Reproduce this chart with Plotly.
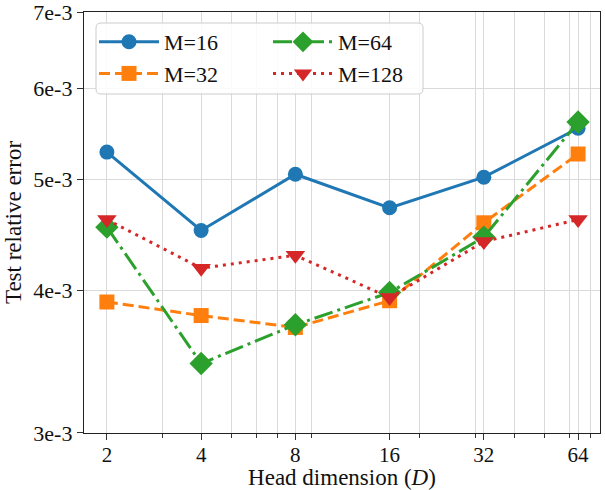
import math
import plotly.graph_objects as go

head_dim = [2, 4, 8, 16, 32, 64]
x_tick_labels = ["2", "4", "8", "16", "32", "64"]
x_minor_vals = [3, 5, 6, 7, 9, 20, 30, 40, 50, 60, 70]
y_tick_vals = [3e-3, 4e-3, 5e-3, 6e-3, 7e-3]
y_tick_labels = ["3e-3", "4e-3", "5e-3", "6e-3", "7e-3"]

err_m16 = [5.28e-3, 4.51e-3, 5.05e-3, 4.72e-3, 5.02e-3, 5.54e-3]
err_m32 = [3.905e-3, 3.80e-3, 3.71e-3, 3.915e-3, 4.58e-3, 5.26e-3]
err_m64 = [4.54e-3, 3.45e-3, 3.73e-3, 3.98e-3, 4.45e-3, 5.61e-3]
err_m128 = [4.61e-3, 4.18e-3, 4.29e-3, 3.94e-3, 4.41e-3, 4.61e-3]

FONT = "Liberation Serif"
W, H = 605, 490
ML, MR, MT, MB = 84, 5, 12, 57
PW, PH = W - ML - MR, H - MT - MB

fig = go.Figure()
series = [
    ("M=16", err_m16, "#1f77b4", "solid", "circle", 15, "legend"),
    ("M=32", err_m32, "#ff7f0e", "11px,5px", "square", 15, "legend"),
    ("M=64", err_m64, "#2ca02c", "19px,5px,3px,5px", "diamond", 18, "legend2"),
    ("M=128", err_m128, "#d62728", "3px,5px", "triangle-down", 17, "legend2"),
]
for name, ys, col, dash, sym, sz, lg in series:
    fig.add_trace(go.Scatter(
        x=head_dim, y=ys, name=name, mode="lines+markers",
        line=dict(color=col, width=3, dash=dash),
        marker=dict(symbol=sym, size=sz, color=col, line=dict(width=0)),
        legend=lg,
    ))

# legend frame (rounded rectangle, paper coords)
def px2paper(xp, yp):
    return (xp - ML) / PW, (H - MB - yp) / PH

x0, y0 = px2paper(96, 23)
x1, y1 = px2paper(423, 94)
rx, ry = 5 / PW, 5 / PH
path = (f"M {x0+rx},{y0} L {x1-rx},{y0} Q {x1},{y0} {x1},{y0-ry} "
        f"L {x1},{y1+ry} Q {x1},{y1} {x1-rx},{y1} L {x0+rx},{y1} "
        f"Q {x0},{y1} {x0},{y1+ry} L {x0},{y0-ry} Q {x0},{y0} {x0+rx},{y0} Z")
fig.add_shape(type="path", path=path, xref="paper", yref="paper",
              fillcolor="rgba(255,255,255,0.85)", line=dict(color="#cccccc", width=1),
              layer="above")

lx1, ly = px2paper(94, 21)
lx2, _ = px2paper(268, 21)
legend_common = dict(bgcolor="rgba(0,0,0,0)", borderwidth=0,
                     font=dict(family=FONT, size=22, color="#111"),
                     xanchor="left", yanchor="top", tracegroupgap=0, itemwidth=60)

fig.update_layout(
    width=W, height=H,
    margin=dict(l=ML, r=MR, t=MT, b=MB, autoexpand=False),
    paper_bgcolor="white", plot_bgcolor="white",
    font=dict(family=FONT, size=21, color="#111"),
    legend=dict(x=lx1, y=ly, **legend_common),
    legend2=dict(x=lx2, y=ly, **legend_common),
    showlegend=True,
)
fig.update_xaxes(
    type="log", range=[math.log10(1.69), math.log10(75.2)],
    tickvals=head_dim, ticktext=x_tick_labels,
    ticks="outside", ticklen=6, tickwidth=1.2, tickcolor="#333",
    showline=True, linecolor="#222", linewidth=1.3, mirror=True,
    showgrid=True, gridcolor="#dadada", gridwidth=1,
    minor=dict(tickvals=x_minor_vals, ticks="outside", ticklen=3.5, tickwidth=1,
               tickcolor="#333", showgrid=True, gridcolor="#dadada", gridwidth=1),
    tickfont=dict(family=FONT, size=21, color="#111"),
    ticklabelstandoff=-3, ticklabeloverflow="allow",
    title=dict(text="Head dimension (<i>D</i>)", font=dict(family=FONT, size=23, color="#111"),
               standoff=4),
    zeroline=False, automargin=False,
)
fig.update_yaxes(
    type="log", range=[math.log10(3e-3) - 1e-5, math.log10(7e-3) + 1e-5],
    tickvals=y_tick_vals, ticktext=y_tick_labels,
    ticks="outside", ticklen=6, tickwidth=1.2, tickcolor="#333",
    showline=True, linecolor="#222", linewidth=1.3, mirror=True,
    showgrid=True, gridcolor="#dadada", gridwidth=1,
    tickfont=dict(family=FONT, size=22, color="#111"),
    ticklabeloverflow="allow",
    title=dict(text="Test relative error", font=dict(family=FONT, size=23, color="#111"),
               standoff=5),
    zeroline=False, automargin=False,
)

fig.write_html("out.html")
